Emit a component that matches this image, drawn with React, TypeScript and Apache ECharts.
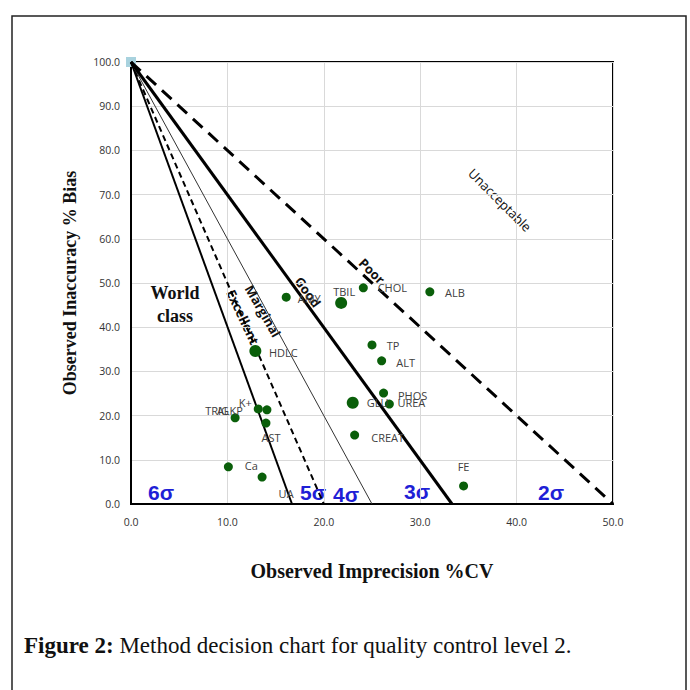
import React, { useEffect, useRef } from "react";
import * as echarts from "echarts";

// Axis ranges / ticks
const xTickValues = [0, 10, 20, 30, 40, 50];
const yTickValues = [0, 10, 20, 30, 40, 50, 60, 70, 80, 90, 100];

// Method points (observed %CV, observed %bias)
const methodNames = ["ALB", "CHOL", "TBIL", "AMY", "HDLC", "TP", "ALT", "PHOS", "UREA", "GLU", "CREAT", "K+", "ALKP", "TRIG", "AST", "Ca", "UA", "FE"];
const methodCV = [31.0, 24.1, 21.8, 16.1, 12.9, 25.0, 26.0, 26.2, 26.8, 23.0, 23.2, 13.2, 14.1, 10.8, 14.0, 10.1, 13.6, 34.5];
const methodBias = [48.0, 48.9, 45.5, 46.8, 34.6, 36.0, 32.4, 25.1, 22.6, 22.9, 15.6, 21.5, 21.3, 19.5, 18.3, 8.4, 6.1, 4.1];

// Sigma boundary lines: all start at allowable total error (0, 100) and end at x-intercept
const sigmaNames = ["6σ", "5σ", "4σ", "3σ", "2σ"];
const sigmaIntercepts = [16.7, 20, 25, 33.3, 50];
const zoneNames = ["World class", "Excellent", "Marginal", "Good", "Poor", "Unacceptable"];

const captionBold = "Figure 2:";
const captionText = " Method decision chart for quality control level 2.";

export default function App() {
  const ref = useRef<HTMLDivElement>(null);

  useEffect(() => {
    if (!ref.current) return;
    const chart = echarts.init(ref.current, null, { renderer: "svg" });

    const bigDots = new Set(["TBIL", "HDLC", "GLU"]);
    const labelOffsets: Record<string, [number, number]> = {
      ALB: [25, 1], CHOL: [29, 0], TBIL: [3, -11], AMY: [23, 1], HDLC: [28, 1],
      TP: [21, 1], ALT: [24, 2], PHOS: [29, 2], UREA: [22, -2], GLU: [25, 0],
      CREAT: [33, 2], "K+": [-13, -6], ALKP: [-37, 1], TRIG: [-18, -7],
      AST: [5, 14], Ca: [23, -1], UA: [24, 16], FE: [0, -19],
    };

    const pointData = methodNames.map((n, i) => ({
      name: n,
      value: [methodCV[i], methodBias[i]],
      symbolSize: bigDots.has(n) ? 12 : 9,
      label: { offset: labelOffsets[n] || [20, 0] },
    }));

    const lineStyles = [
      { color: "#000", width: 2, type: "solid" },
      { color: "#000", width: 2, type: [6, 4] },
      { color: "#333", width: 1, type: "solid" },
      { color: "#000", width: 3, type: "solid" },
      { color: "#000", width: 3, type: [13, 8] },
    ];

    const lineSeries = sigmaIntercepts.map((xi, i) => ({
      type: "line",
      name: sigmaNames[i],
      data: [[0, 100], [xi, 0]],
      symbol: "none",
      lineStyle: lineStyles[i],
      silent: true,
      z: 3,
    }));

    const sigmaPos: [number, number][] = [[161, 492], [313, 492], [346, 494], [417, 491], [551, 492]];
    const zonePos: { x: number; y: number; r: number; size: number; weight: string }[] = [
      { x: 0, y: 0, r: 0, size: 0, weight: "bold" },
      { x: 243, y: 317, r: -65, size: 13, weight: "bold" },
      { x: 263, y: 311, r: -60, size: 13, weight: "bold" },
      { x: 308, y: 292, r: -54, size: 13, weight: "bold" },
      { x: 372, y: 271, r: -45, size: 13, weight: "bold" },
      { x: 500, y: 200, r: -45, size: 13, weight: "normal" },
    ];

    const graphics: any[] = [
      {
        type: "rect",
        shape: { x: 12, y: 16, width: 674, height: 700 },
        style: { fill: "none", stroke: "#222", lineWidth: 1.5 },
        silent: true,
      },
      {
        type: "text",
        x: 24,
        y: 645,
        style: {
          text: "{b|" + captionBold + "}" + captionText,
          fontFamily: "Liberation Serif",
          fontSize: 23,
          fill: "#111",
          align: "left",
          verticalAlign: "middle",
          rich: { b: { fontWeight: "bold", fontFamily: "Liberation Serif", fontSize: 23, fill: "#111" } },
        },
      },
      {
        type: "text",
        x: 175,
        y: 304,
        style: {
          text: "World\nclass",
          fontFamily: "Liberation Serif",
          fontWeight: "bold",
          fontSize: 18,
          lineHeight: 23,
          fill: "#111",
          align: "center",
          verticalAlign: "middle",
        },
      },
    ];

    sigmaNames.forEach((s, i) => {
      graphics.push({
        type: "text",
        x: sigmaPos[i][0],
        y: sigmaPos[i][1],
        style: {
          text: s,
          fontFamily: "Liberation Sans",
          fontWeight: "bold",
          fontSize: 21,
          fill: "#1f1fd6",
          align: "center",
          verticalAlign: "middle",
        },
      });
    });

    zoneNames.forEach((z, i) => {
      if (i === 0) return;
      const p = zonePos[i];
      graphics.push({
        type: "text",
        x: p.x,
        y: p.y,
        rotation: (p.r * Math.PI) / 180,
        style: {
          text: z,
          fontFamily: "Open Sans",
          fontWeight: p.weight,
          fontSize: p.size,
          fill: "#111",
          align: "center",
          verticalAlign: "middle",
        },
      });
    });

    chart.setOption({
      animation: false,
      backgroundColor: "#fff",
      grid: {
        left: 131,
        top: 62,
        width: 482,
        height: 442,
        show: true,
        borderColor: "#000",
        borderWidth: 2,
        containLabel: false,
        outerBoundsMode: "none",
      },
      xAxis: {
        type: "value",
        min: xTickValues[0],
        max: xTickValues[xTickValues.length - 1],
        interval: 10,
        name: "Observed Imprecision %CV",
        nameLocation: "middle",
        nameGap: 57,
        nameTextStyle: { fontFamily: "Liberation Serif", fontWeight: "bold", fontSize: 20, color: "#111" },
        axisLine: { show: true, lineStyle: { color: "#000", width: 2 } },
        axisTick: { show: false },
        axisLabel: {
          margin: 12,
          fontFamily: "Open Sans",
          fontSize: 10.5,
          color: "#333",
          formatter: (v: number) => v.toFixed(1),
        },
        splitLine: { show: true, lineStyle: { color: "#d9d9d9", width: 1 } },
      },
      yAxis: {
        type: "value",
        min: yTickValues[0],
        max: yTickValues[yTickValues.length - 1],
        interval: 10,
        name: "Observed Inaccuracy % Bias",
        nameLocation: "middle",
        nameGap: 52,
        nameTextStyle: { fontFamily: "Liberation Serif", fontWeight: "bold", fontSize: 18, color: "#111" },
        axisLine: { show: true, lineStyle: { color: "#000", width: 2 } },
        axisTick: { show: false },
        axisLabel: {
          margin: 11,
          fontFamily: "Open Sans",
          fontSize: 10.5,
          color: "#333",
          formatter: (v: number) => v.toFixed(1),
        },
        splitLine: { show: true, lineStyle: { color: "#d9d9d9", width: 1 } },
      },
      series: [
        {
          type: "scatter",
          name: "TEa",
          data: [[0, 100]],
          symbol: "rect",
          symbolSize: 10,
          itemStyle: { color: "#a8d2de", opacity: 1 },
          z: 2,
          silent: true,
        },
        ...lineSeries,
        {
          type: "scatter",
          name: "Methods",
          data: pointData,
          itemStyle: { color: "#0a5f0a", opacity: 1 },
          z: 4,
          label: {
            show: true,
            position: "inside",
            formatter: "{b}",
            fontFamily: "Open Sans",
            fontSize: 11,
            color: "#404040",
            align: "center",
            verticalAlign: "middle",
          },
        },
      ],
      graphic: graphics,
    });

    return () => chart.dispose();
  }, []);

  return <div ref={ref} style={{ position: "absolute", left: 0, top: 0, width: 690, height: 690, background: "#fff" }} />;
}
